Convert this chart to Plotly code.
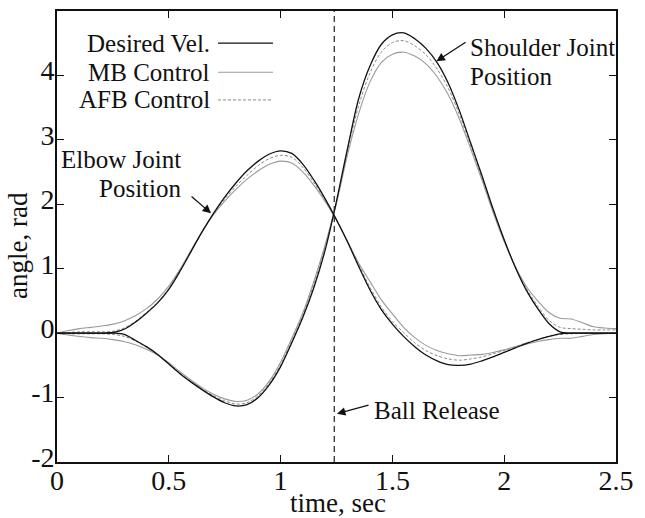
import plotly.graph_objects as go

# ---------------- data ----------------
time_s = [round(0.05 * i, 2) for i in range(51)]

elbow_desired = [0, 0, 0, 0, 0, 0.01, 0.06, 0.17, 0.31, 0.47,
                 0.68, 0.96, 1.27, 1.58, 1.86, 2.11, 2.33, 2.52, 2.67, 2.78,
                 2.83, 2.79, 2.62, 2.37, 2.08, 1.76, 1.41, 1.03, 0.67, 0.37,
                 0.14, -0.05, -0.21, -0.34, -0.43, -0.49, -0.50, -0.48, -0.43, -0.37,
                 -0.30, -0.23, -0.16, -0.10, -0.05, -0.01, 0, 0, 0, 0, 0]
elbow_mb = [0, 0.04, 0.07, 0.09, 0.11, 0.14, 0.19, 0.27, 0.38, 0.53,
            0.73, 0.99, 1.29, 1.58, 1.84, 2.05, 2.23, 2.39, 2.52, 2.62,
            2.67, 2.64, 2.50, 2.29, 2.04, 1.75, 1.42, 1.08, 0.80, 0.52,
            0.30, 0.09, -0.07, -0.19, -0.27, -0.32, -0.35, -0.34, -0.33, -0.30,
            -0.26, -0.21, -0.17, -0.13, -0.10, -0.08, -0.08, -0.05, -0.02, -0.01, 0.0]
elbow_afb = [0, 0.01, 0.02, 0.02, 0.02, 0.03, 0.08, 0.18, 0.32, 0.48,
             0.69, 0.97, 1.28, 1.58, 1.85, 2.08, 2.28, 2.45, 2.60, 2.71,
             2.76, 2.73, 2.57, 2.33, 2.06, 1.76, 1.42, 1.06, 0.71, 0.41,
             0.18, 0.01, -0.15, -0.27, -0.35, -0.40, -0.42, -0.40, -0.37, -0.32,
             -0.27, -0.21, -0.15, -0.10, -0.05, -0.02, -0.01, 0, 0, 0, 0]

shoulder_desired = [0, 0, 0, 0, 0, 0, -0.02, -0.11, -0.21, -0.33,
                    -0.48, -0.63, -0.76, -0.88, -0.99, -1.08, -1.13, -1.11, -1.00, -0.80,
                    -0.52, -0.15, 0.25, 0.72, 1.30, 2.05, 2.88, 3.65, 4.15, 4.48,
                    4.63, 4.66, 4.57, 4.42, 4.20, 3.88, 3.45, 2.95, 2.45, 1.93,
                    1.45, 1.02, 0.66, 0.38, 0.15, 0.02, 0, 0, 0, 0, 0]
shoulder_mb = [0, -0.03, -0.05, -0.07, -0.08, -0.10, -0.13, -0.18, -0.25, -0.34,
               -0.46, -0.60, -0.73, -0.85, -0.95, -1.02, -1.06, -1.04, -0.94, -0.74,
               -0.45, -0.08, 0.32, 0.82, 1.38, 2.02, 2.78, 3.42, 3.90, 4.20,
               4.33, 4.36, 4.30, 4.18, 3.98, 3.70, 3.32, 2.86, 2.38, 1.88,
               1.42, 1.03, 0.72, 0.50, 0.32, 0.23, 0.22, 0.16, 0.10, 0.08, 0.07]
shoulder_afb = [0, -0.01, -0.01, -0.01, -0.01, -0.02, -0.05, -0.12, -0.22, -0.33,
                -0.47, -0.62, -0.75, -0.87, -0.97, -1.05, -1.10, -1.08, -0.97, -0.77,
                -0.49, -0.12, 0.28, 0.78, 1.34, 2.03, 2.84, 3.54, 4.04, 4.36,
                4.51, 4.54, 4.46, 4.32, 4.10, 3.80, 3.39, 2.91, 2.42, 1.91,
                1.44, 1.03, 0.69, 0.42, 0.20, 0.09, 0.07, 0.06, 0.05, 0.05, 0.05]

ball_release_t = 1.24
x_ticks = [0, 0.5, 1, 1.5, 2, 2.5]
x_tick_labels = ["0", "0.5", "1", "1.5", "2", "2.5"]
y_ticks = [-2, -1, 0, 1, 2, 3, 4, 5]
y_tick_labels = ["-2", "-1", "0", "1", "2", "3", "4", "5"]

legend_names = ["Desired Vel.", "MB Control", "AFB Control"]

# ---------------- styles ----------------
FONT = "Liberation Serif, Times New Roman, serif"
TXT = 25
styles = {
    "Desired Vel.": dict(color="#111111", width=1.3, dash="solid"),
    "MB Control": dict(color="#9a9a9a", width=1.1, dash="solid"),
    "AFB Control": dict(color="#8a8a8a", width=1.0, dash="3px,2px"),
}

fig = go.Figure()
series = [
    ("MB Control", elbow_mb), ("MB Control", shoulder_mb),
    ("AFB Control", elbow_afb), ("AFB Control", shoulder_afb),
    ("Desired Vel.", elbow_desired), ("Desired Vel.", shoulder_desired),
]
for name, ys in series:
    fig.add_trace(go.Scatter(
        x=time_s, y=ys, mode="lines", name=name, showlegend=False,
        line=dict(shape="spline", smoothing=0.9, **styles[name]),
        hoverinfo="skip"))

# Ball release line
fig.add_shape(type="line", xref="x", yref="paper", x0=ball_release_t, x1=ball_release_t,
              y0=0, y1=1, line=dict(color="#222222", width=1.2, dash="6px,4px"))

# custom legend (text left of line sample, as in reference)
leg_text_x = 0.693
leg_line_x0, leg_line_x1 = 0.72, 0.966
leg_rows_y = [4.50, 4.05, 3.62]
for name, ly in zip(legend_names, leg_rows_y):
    fig.add_annotation(x=leg_text_x, y=ly, xref="x", yref="y", text=name,
                       showarrow=False, xanchor="right", yanchor="middle",
                       font=dict(family=FONT, size=TXT, color="#111"))
    st = styles[name]
    fig.add_shape(type="line", xref="x", yref="y", x0=leg_line_x0, x1=leg_line_x1,
                  y0=ly, y1=ly, line=dict(color=st["color"], width=st["width"], dash=st["dash"]))

def label(x, y, text, anchor, xref="x", yref="y", size=TXT, angle=0):
    fig.add_annotation(x=x, y=y, xref=xref, yref=yref, text=text, showarrow=False,
                       xanchor=anchor, yanchor="middle", textangle=angle,
                       font=dict(family=FONT, size=size, color="#111"))

def arrow(x_tail, y_tail, x_tip, y_tip):
    fig.add_annotation(x=x_tip, y=y_tip, ax=x_tail, ay=y_tail, xref="x", yref="y",
                       axref="x", ayref="y", text="", showarrow=True,
                       arrowhead=2, arrowsize=1.3, arrowwidth=1.3, arrowcolor="#111")

label(0.564, 2.69, "Elbow Joint", "right")
label(0.564, 2.25, "Position", "right")
arrow(0.595, 2.14, 0.689, 1.86)

label(1.838, 4.44, "Shoulder Joint", "left")
label(1.838, 3.98, "Position", "left")
arrow(1.834, 4.53, 1.697, 4.22)

label(1.41, -1.20, "Ball Release", "left")
arrow(1.40, -1.11, 1.252, -1.25)

# axis titles (placed as paper annotations)
label(0.502, -0.090, "time, sec", "center", xref="paper", yref="paper", size=27)
label(-0.070, 0.481, "angle, rad", "center", xref="paper", yref="paper", size=27, angle=-90)

axis_common = dict(showline=True, linecolor="#111", linewidth=1.6, mirror="ticks",
                   ticks="inside", ticklen=7, tickwidth=1.3, tickcolor="#111",
                   showgrid=False, zeroline=False, automargin=False,
                   tickfont=dict(family=FONT, size=28, color="#111"))

fig.update_xaxes(range=[0, 2.5], tickvals=x_ticks, ticktext=x_tick_labels,
                 ticklabelstandoff=-7, **axis_common)
fig.update_yaxes(range=[-2, 5], tickvals=y_ticks, ticktext=y_tick_labels,
                 ticklabelstandoff=-5, ticklabelshift=-5, **axis_common)

fig.update_layout(width=645, height=518, margin=dict(l=57, r=29, t=11, b=56),
                  paper_bgcolor="white", plot_bgcolor="white", showlegend=False)

fig.write_html("out.html")
